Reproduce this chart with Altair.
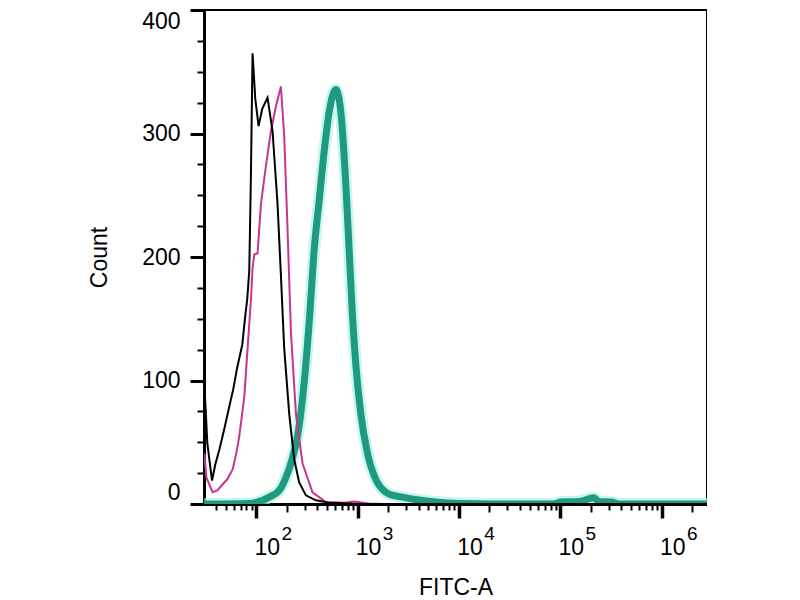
import altair as alt
import pandas as pd

FONT = "Liberation Sans"

# FITC-A intensity / event count
black_x = [30.7, 32.9, 36.6, 39.4, 43.2, 48.4, 54.2, 59.3, 65.0, 72.8, 78.0, 81.5,
           85.3, 88.7, 91.9, 97.8, 105.4, 114.6, 129.2, 144.7, 162.1, 175.1, 188.7,
           211.4, 236.8, 265.2, 308.9, 387.5, 524, 1035, 2800000]
black_count = [99, 49, 19, 32, 44, 61, 79, 93, 111, 129, 153, 166,
               189, 270, 365, 328, 306, 320, 329, 302, 243, 185, 126,
               73, 36, 17.5, 7, 3, 1, 0, 0]

magenta_x = [30.7, 32.2, 37.1, 41.3, 46.6, 51.8, 58.4, 63.5, 68.0, 76.2, 82.1, 88.7,
             91.9, 95.6, 103.0, 111.2, 124.6, 139.6, 156.4, 175.1, 188.7, 203.4,
             219.8, 246.1, 285.9, 358.6, 486, 736, 923, 1297, 1800, 2800000]
magenta_count = [41, 21.5, 9.5, 11, 16, 20, 28, 41, 55, 87, 126, 166,
                 191, 202, 203, 243, 274, 302, 322, 338, 298, 223,
                 139, 73, 33, 9.5, 1.6, 1, 2, 0.4, 0, 0]

green_x = [30.7, 85, 100, 134.4, 168.5, 196.2, 219.8, 256.4, 297.1, 336.6, 372.8,
           417.6, 467.7, 524.0, 610.0, 683.2, 765.0, 824.8, 888.9, 960.0, 1075,
           1249, 1511, 2043, 2763, 4036, 5895, 10000, 24770, 86300, 101100,
           152000, 213800, 239300, 321300, 376700, 2800000]
green_count = [0, 0.4, 1.2, 5.6, 11, 21.5, 33, 55.7, 98.6, 152.7, 206,
               245.8, 285.6, 317.4, 335.7, 317.4, 258.6, 206, 152.7, 113, 73.2,
               41.4, 19.9, 8, 5.6, 3.2, 1.6, 0.4, 0, 0, 1.6,
               2, 5, 2, 1.6, 0, 0]

decades = [100, 1000, 10000, 100000, 1000000]
medium_ticks = [200, 2000, 20000, 200000, 2000000]
minor_ticks = [k * 10 ** n for n in range(1, 6) for k in range(3, 10) if k * 10 ** n > 30.5]
count_major = [0, 100, 200, 300, 400]
count_minor = [25, 50, 75, 125, 150, 175, 225, 250, 275, 325, 350, 375]


def curve(xs, ys):
    return pd.DataFrame({"fitc": xs, "count": ys})


x_scale = alt.Scale(type="log", domain=[30.5, 2800000], nice=False)
y_scale = alt.Scale(domain=[0, 400], nice=False)

label_style = dict(labelFont=FONT, labelColor="black", grid=False, tickColor="black")

x_major = alt.Axis(
    orient="bottom", values=decades, labelExpr="'10'", tickSize=14, tickWidth=3.5,
    domainWidth=3, domainColor="black", labelFontSize=23, labelAlign="center",
    labelOffset=10.5, labelBaseline="alphabetic", labelPadding=36, labelFlush=False,
    labelOverlap=False, title="FITC-A", titleFont=FONT, titleFontSize=23,
    titleFontWeight="normal", titleColor="black", titlePadding=17, **label_style,
)
x_exp = alt.Axis(
    orient="bottom", values=decades,
    labelExpr="format(log(datum.value) / LN10, 'd')", ticks=False, tickSize=0,
    domain=False, labelFontSize=19, labelAlign="center", labelOffset=30,
    labelBaseline="alphabetic", labelPadding=35, labelFlush=False,
    labelOverlap=False, title=None, **label_style,
)
x_minor = alt.Axis(orient="bottom", values=minor_ticks, tickSize=6, tickWidth=2,
                   labels=False, domain=False, title=None, **label_style)
x_medium = alt.Axis(orient="bottom", values=medium_ticks, tickSize=8, tickWidth=2,
                    labels=False, domain=False, title=None, **label_style)

y_major = alt.Axis(
    orient="left", values=count_major, tickSize=14, tickWidth=3, domainWidth=3,
    domainColor="black", labelFontSize=23, labelPadding=10, labelFlush=True,
    title="Count", titleFont=FONT, titleFontSize=23, titleFontWeight="normal",
    titleColor="black", titlePadding=30, **label_style,
)
y_minor = alt.Axis(orient="left", values=count_minor, tickSize=7, tickWidth=2,
                   labels=False, domain=False, title=None, **label_style)


def layer(df, xaxis, yaxis, **mark):
    return alt.Chart(df).mark_line(clip=True, **mark).encode(
        x=alt.X("fitc:Q", scale=x_scale, axis=xaxis),
        y=alt.Y("count:Q", scale=y_scale, axis=yaxis),
    )


halo = layer(curve(green_x, green_count), x_medium, None,
             color="#aef2e8", strokeWidth=12, opacity=0.7, interpolate="monotone")
green = layer(curve(green_x, green_count), x_major, y_major,
              color="#1f9a80", strokeWidth=7, interpolate="monotone")
magenta = layer(curve(magenta_x, magenta_count), x_exp, y_minor,
                color="#c8358f", strokeWidth=2)
black = layer(curve(black_x, black_count), x_minor, None,
              color="black", strokeWidth=2)

chart = (
    alt.layer(halo, green, magenta, black)
    .resolve_axis(x="independent", y="independent")
    .properties(width=503, height=494,
                padding={"left": 80, "top": 0, "right": 0, "bottom": 0})
    .configure_view(stroke="black", strokeWidth=2)
)

chart.save("out.html", embed_options={"renderer": "svg", "actions": False})
